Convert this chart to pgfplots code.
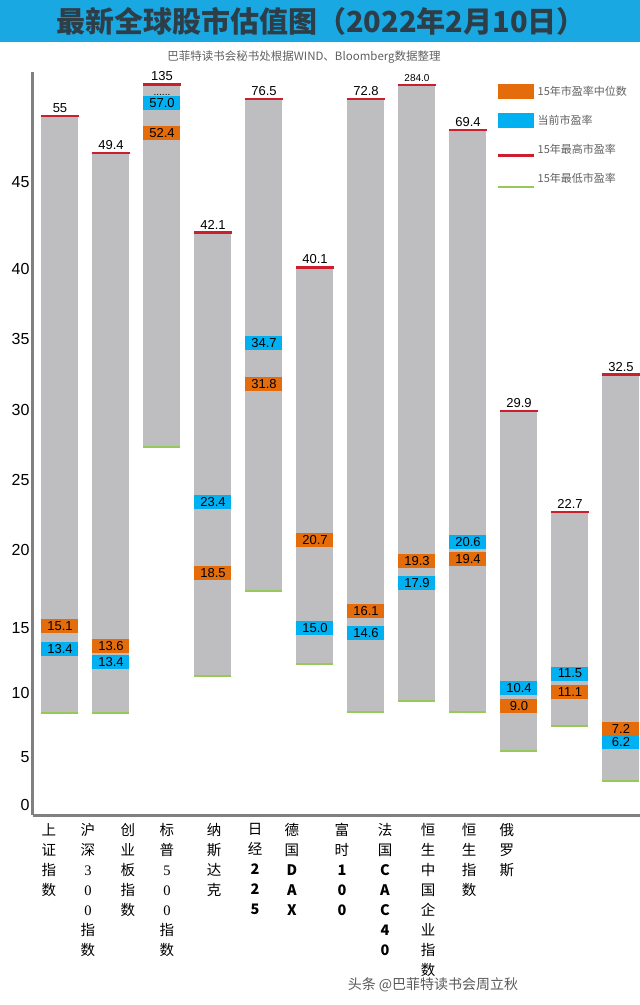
\documentclass[border=0pt]{standalone}
\usepackage{fontspec}
\usepackage{pgfplots}
\pgfplotsset{compat=1.18}
\setmainfont{DejaVu Sans}
\newfontfamily\cjk{Noto Sans CJK SC}
\newfontfamily\lib{Liberation Sans}
\newfontfamily\libser{Liberation Serif}
\definecolor{band}{RGB}{26,168,226}
\definecolor{ttl}{RGB}{46,62,72}
\definecolor{bargray}{RGB}{190,190,192}
\definecolor{medorange}{RGB}{228,108,10}
\definecolor{curblue}{RGB}{0,176,240}
\definecolor{maxred}{RGB}{205,30,45}
\definecolor{mingreen}{RGB}{150,200,90}
\definecolor{axgray}{RGB}{128,128,128}

\begin{document}
\begin{tikzpicture}
\begin{axis}[
  name=ax, at={(0pt,0pt)}, anchor=south west,
  scale only axis, width=607pt, height=743pt,
  xmin=0.4706, xmax=12.373,
  ymin=-1.04, ymax=61.67,
  y coord trafo/.code={\pgfmathparse{9.6*min(#1,5) + 12.8*max(0,min(#1,10)-5) + 13*max(0,min(#1,15)-10) + 15.6*max(0,min(#1,20)-15) + 14.05*max(0,min(#1,40)-20) + 17.4*max(0,min(#1,45)-40) + 6.6*max(0,#1-45)}},
  axis x line*=bottom, axis y line*=left,
  axis line style={draw=axgray, line width=3pt},
  major tick length=0pt,
  clip=false,
  ytick={0,5,10,15,20,25,30,35,40,45},
  yticklabels={0,5,10,15,20,25,30,35,40,45},
  yticklabel style={font=\lib\fontsize{16}{16}\selectfont, text=black},
  xtick={0.784,1.549,2.333,3.098,4.020,4.824,5.549,6.529,7.373,8.216,9.020,9.765},
  xticklabels={
    {上\\证\\指\\数},
    {沪\\深\\{\libser 3}\\{\libser 0}\\{\libser 0}\\指\\数},
    {创\\业\\板\\指\\数},
    {标\\普\\{\libser 5}\\{\libser 0}\\{\libser 0}\\指\\数},
    {纳\\斯\\达\\克},
    {日\\经\\\textbf{2}\\\textbf{2}\\\textbf{5}},
    {德\\国\\\textbf{D}\\\textbf{A}\\\textbf{X}},
    {富\\时\\\textbf{1}\\\textbf{0}\\\textbf{0}},
    {法\\国\\\textbf{C}\\\textbf{A}\\\textbf{C}\\\textbf{4}\\\textbf{0}},
    {恒\\生\\中\\国\\企\\业\\指\\数},
    {恒\\生\\指\\数},
    {俄\\罗\\斯}},
  xticklabel style={align=center, anchor=north, font=\cjk\fontsize{14.5}{20}\selectfont, yshift=-5pt},
  legend style={at={(axis description cs:0.7644,0.9838)}, anchor=north west, draw=none, fill=none,
    inner sep=0pt, row sep=14pt, font=\cjk\fontsize{11}{11}\selectfont, text=gray!75!black,
    /tikz/every even column/.append style={column sep=3pt}},
  legend cell align=left,
  medbox/.style={forget plot, draw=none, mark=none, nodes near coords, point meta=explicit symbolic,
    nodes near coords style={anchor=center, fill=medorange, minimum width=37pt, minimum height=14pt,
      inner sep=0pt, text=black, font=\lib\fontsize{13}{13}\selectfont}},
  curbox/.style={forget plot, draw=none, mark=none, nodes near coords, point meta=explicit symbolic,
    nodes near coords style={anchor=center, fill=curblue, minimum width=37pt, minimum height=14pt,
      inner sep=0pt, text=black, font=\lib\fontsize{13}{13}\selectfont}},
  maxsty/.style={forget plot, only marks, mark=-, mark size=19pt, mark options={draw=maxred, line width=2.5pt},
    nodes near coords, point meta=explicit symbolic,
    nodes near coords style={anchor=south, inner sep=1pt, yshift=1pt, text=black, font=\lib\fontsize{13}{13}\selectfont}},
  barsty/.style={draw=bargray, line width=37pt, mark=none, forget plot},
]
\addlegendimage{legend image code/.code={\fill[medorange, draw=none] (0pt,-7.5pt) rectangle (36pt,7.5pt);}}
\addlegendentry{15年市盈率中位数}
\addlegendimage{legend image code/.code={\fill[curblue, draw=none] (0pt,-7.5pt) rectangle (36pt,7.5pt);}}
\addlegendentry{当前市盈率}
\addlegendimage{legend image code/.code={\fill[white, draw=none, opacity=0] (0pt,-7.5pt) rectangle (36pt,7.5pt); \draw[maxred, line width=2.5pt] (0pt,-6pt) -- (36pt,-6pt);}}
\addlegendentry{15年最高市盈率}
\addlegendimage{legend image code/.code={\fill[white, draw=none, opacity=0] (0pt,-7.5pt) rectangle (36pt,7.5pt); \draw[mingreen, line width=2pt] (0pt,-8pt) -- (36pt,-8pt);}}
\addlegendentry{15年最低市盈率}

% floating bars: 15-year min to max (tops beyond the scale are cut, as in the reference)
\addplot[barsty] coordinates {(1,8.4) (1,55)};
\addplot[barsty] coordinates {(2,8.4) (2,49.4)};
\addplot[barsty] coordinates {(3,27.3) (3,59.8)};
\addplot[barsty] coordinates {(4,11.3) (4,42.1)};
\addplot[barsty] coordinates {(5,17.4) (5,57.6)};
\addplot[barsty] coordinates {(6,12.2) (6,40.1)};
\addplot[barsty] coordinates {(7,8.5) (7,57.6)};
\addplot[barsty] coordinates {(8,9.4) (8,59.7)};
\addplot[barsty] coordinates {(9,8.5) (9,52.9)};
\addplot[barsty] coordinates {(10,5.5) (10,29.9)};
\addplot[barsty] coordinates {(11,7.4) (11,22.7)};
\addplot[barsty] coordinates {(12,2.5) (12,32.5)};

% 15-year minimum
\addplot[forget plot, only marks, mark=-, mark size=18.5pt, mark options={draw=mingreen, line width=2pt}]
  coordinates {(1,8.4) (2,8.4) (3,27.3) (4,11.3) (5,17.4) (6,12.2) (7,8.5) (8,9.4) (9,8.5) (10,5.5) (11,7.4) (12,2.5)};
% 15-year maximum
\addplot[maxsty] coordinates {(1,55)[55] (2,49.4)[49.4] (3,59.8)[135] (4,42.1)[42.1] (5,57.6)[76.5] (6,40.1)[40.1]
  (7,57.6)[72.8] (9,52.9)[69.4] (10,29.9)[29.9] (11,22.7)[22.7] (12,32.5)[32.5]};
\addplot[maxsty, nodes near coords style={font=\lib\fontsize{10}{10}\selectfont}] coordinates {(8,59.7)[284.0]};
% 15-year median
\addplot[medbox] coordinates {(1,15.1)[15.1] (2,13.6)[13.6] (3,52.4)[52.4] (4,18.5)[18.5] (5,31.8)[31.8] (6,20.7)[20.7]
  (7,16.1)[16.1] (8,19.3)[19.3] (9,19.4)[19.4] (10,9.0)[9.0] (12,7.2)[7.2]};
\addplot[medbox, nodes near coords style={yshift=-13pt}] coordinates {(11,11.1)[11.1]};
% current
\addplot[curbox] coordinates {(1,13.4)[13.4] (3,57.0)[57.0] (4,23.4)[23.4] (5,34.7)[34.7] (6,15.0)[15.0]
  (7,14.6)[14.6] (8,17.9)[17.9] (9,20.6)[20.6] (10,10.4)[10.4] (11,11.5)[11.5] (12,6.2)[6.2]};
\addplot[curbox, nodes near coords style={yshift=-13pt}] coordinates {(2,13.4)[13.4]};
\node[font=\lib\fontsize{10}{10}\selectfont, anchor=base] at (axis cs:3,58.1) {......};
\end{axis}
\pgfresetboundingbox
\begin{scope}[shift={(ax.south west)}, x=1pt, y=1pt]
\useasboundingbox (-33,-190) rectangle (607,815);
\fill[band] (-33,773) rectangle (607,815);
\node[font=\cjk\bfseries\fontsize{29}{29}\selectfont, text=ttl] at (288,794) {最新全球股市估值图（2022年2月10日）};
\node[font=\cjk\fontsize{11.5}{12}\selectfont, text=gray!75!black] at (271,758) {巴菲特读书会秘书处根据WIND、Bloomberg数据整理};
\node[font=\cjk\fontsize{14}{14}\selectfont, text=gray!70!black] at (400,-170) {头条 @巴菲特读书会周立秋};
\end{scope}
\end{tikzpicture}
\end{document}
